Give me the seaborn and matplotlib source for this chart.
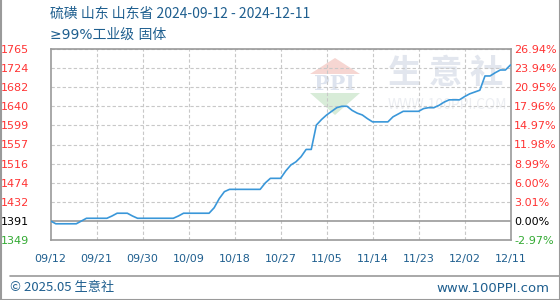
import numpy as np
import pandas as pd
import matplotlib
matplotlib.use("Agg")
import matplotlib.pyplot as plt
import seaborn as sns
from matplotlib.lines import Line2D
from matplotlib.patches import Polygon

# ---------------- data ----------------
start_date = "2024-09-12"
end_date = "2024-12-11"
prices = [1391, 1385, 1385, 1385, 1385, 1385, 1391, 1397, 1397, 1397, 1397, 1397,
          1402, 1408, 1408, 1408, 1402, 1397, 1397, 1397, 1397, 1397, 1397, 1397, 1397,
          1402, 1408, 1408, 1408, 1408, 1408, 1408, 1420, 1440, 1455,
          1460, 1460, 1460, 1460, 1460, 1460, 1460, 1474, 1484, 1484, 1484,
          1500, 1513, 1520, 1531, 1547, 1547, 1600, 1612, 1622, 1630, 1638, 1641, 1641,
          1632, 1626, 1622, 1614, 1607, 1607, 1607, 1607, 1618, 1624,
          1630, 1630, 1630, 1630, 1636, 1638, 1638, 1643, 1650, 1655, 1655, 1655,
          1662, 1668, 1672, 1676, 1707, 1707, 1714, 1720, 1720, 1731]
base_price = 1391
x_labels = ["09/12", "09/21", "09/30", "10/09", "10/18", "10/27",
            "11/05", "11/14", "11/23", "12/02", "12/11"]
left_labels = ["1349", "1391", "1432", "1474", "1516", "1557",
               "1599", "1640", "1682", "1724", "1765"]
right_labels = ["-2.97%", "0.00%", "3.01%", "6.00%", "8.99%", "11.98%",
                "14.97%", "17.96%", "20.95%", "23.94%", "26.94%"]
title1 = "硫磺 山东 山东省 2024-09-12 - 2024-12-11"
title2 = "≥99%工业级 固体"
footer_left = "© 2025.05 生意社"
footer_right = "www.100PPI.com"

dates = pd.date_range(start_date, end_date, freq="D")
df = pd.DataFrame({"day": np.arange(len(dates)), "price": prices})

# ---------------- style ----------------
sns.set_theme(style="white")
plt.rcParams["font.family"] = ["Noto Sans CJK SC", "DejaVu Sans"]

BLUE_TXT = "#1f5f8f"
RED = "#ff3333"
GREEN = "#33aa33"
GRAY = "#9a9a9a"

fig = plt.figure(figsize=(5.6, 3.0), dpi=100)
ax = fig.add_axes([50.7 / 560, 1 - 240 / 300, (510.5 - 50.7) / 560, (240 - 49) / 300])

lo = base_price * (1 - 0.0297)
hi = base_price * (1 + 0.2694)
yt = np.linspace(lo, hi, len(left_labels))
ax.set_ylim(lo, hi)
ax.set_xlim(0, len(dates) - 1)
xt = np.arange(0, len(dates), 9)

# grid
for y in yt[2:]:
    ax.axhline(y, color="#c8c8c8", lw=0.8, ls=(0, (3, 2)), zorder=1)
for x in xt[1:-1]:
    ax.axvline(x, color="#c8c8c8", lw=0.8, ls=(0, (3, 2)), zorder=1)
ax.axhline(yt[1], color=GRAY, lw=1.2, zorder=2)

# watermark
tr = ax.transAxes
def ax_pt(px, py):
    return ((px - 50.7) / (510.5 - 50.7), (240 - py) / (240 - 49))
ax.add_patch(Polygon([ax_pt(310, 74), ax_pt(335, 58), ax_pt(360, 74)], closed=True,
                     transform=tr, color="#f6d6d2", zorder=0.5, lw=0))
ax.add_patch(Polygon([ax_pt(310, 93), ax_pt(335, 115), ax_pt(360, 93)], closed=True,
                     transform=tr, color="#d8ecd8", zorder=0.5, lw=0))
ax.text(*ax_pt(335, 84), "PPI", transform=tr, ha="center", va="center",
        fontsize=15, color="#dde3ee", fontweight="bold", family="DejaVu Serif", zorder=0.6)
ax.text(*ax_pt(446, 74), "生 意 社", transform=tr, ha="center", va="center",
        fontsize=24, color="#e2e6ee", fontweight="bold", zorder=0.6)
ax.text(*ax_pt(447, 105), "WWW.100PPI.COM", transform=tr, ha="center", va="center",
        fontsize=10, color="#eceef2", zorder=0.6)

sns.lineplot(data=df, x="day", y="price", ax=ax, color="#3a97d9", lw=1.2, zorder=3)

ax.set_xlabel("")
ax.set_ylabel("")
ax.set_xticks(xt)
ax.set_xticklabels(x_labels, color=BLUE_TXT, fontsize=8, family="DejaVu Sans")
ax.set_yticks(yt)
ax.set_yticklabels(left_labels, fontsize=8, family="DejaVu Sans")
ax.tick_params(axis="both", length=0)
ax.tick_params(axis="x", pad=10)
ax.tick_params(axis="y", pad=15.5)
for s in ax.spines.values():
    s.set_color(GRAY)
    s.set_linewidth(1.2)

def label_color(i):
    return GREEN if i == 0 else ("black" if i == 1 else RED)

for i, t in enumerate(ax.get_yticklabels()):
    t.set_color(label_color(i))

ax2 = ax.twinx()
ax2.set_ylim(lo, hi)
ax2.set_yticks(yt)
ax2.set_yticklabels(right_labels, fontsize=8, family="DejaVu Sans")
ax2.tick_params(axis="y", length=0, pad=2.5)
for i, t in enumerate(ax2.get_yticklabels()):
    t.set_color(label_color(i))
for s in ax2.spines.values():
    s.set_visible(False)
ax2.grid(False)

# titles
fig.text(50 / 560, 1 - 14 / 300, title1, fontsize=10, color=BLUE_TXT, va="center", ha="left")
fig.text(50 / 560, 1 - 35 / 300, title2, fontsize=10, color=BLUE_TXT, va="center", ha="left",
         family=["DejaVu Sans", "Noto Sans CJK SC"])

# footer
fig.add_artist(Line2D([10 / 560, 1], [1 - 275.5 / 300] * 2, color=GRAY, lw=1.2))
fig.text(10 / 560, 1 - 288 / 300, footer_left, fontsize=9.5, color=BLUE_TXT, va="center", ha="left")
fig.text(549 / 560, 1 - 288 / 300, footer_right, fontsize=9.5, color=BLUE_TXT, va="center",
         ha="right", family="DejaVu Sans")

# figure border (left, right, bottom)
fig.add_artist(Line2D([0.5 / 560, 0.5 / 560], [0, 1], color=GRAY, lw=1.5))
fig.add_artist(Line2D([559.5 / 560, 559.5 / 560], [0, 1], color=GRAY, lw=1.5))
fig.add_artist(Line2D([0, 1], [0.5 / 300, 0.5 / 300], color=GRAY, lw=1.5))

fig.savefig("out.png", dpi=100)
